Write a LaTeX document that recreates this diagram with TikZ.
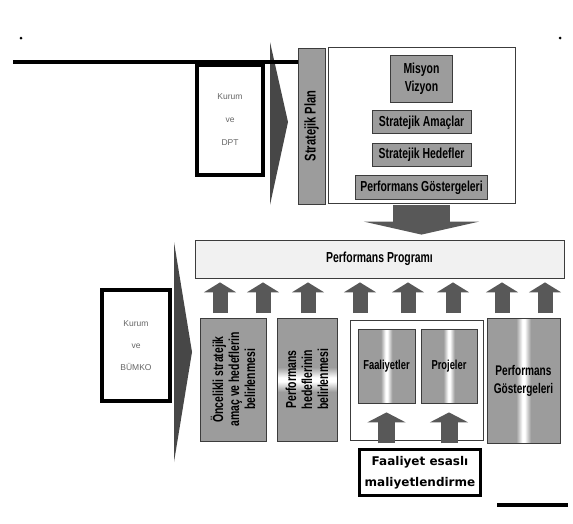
\documentclass[tikz,border=0pt]{standalone}
\usepackage{fontspec}
\setmainfont{Liberation Sans}
\newfontfamily\narrowfont[FakeStretch=0.72]{Liberation Sans}
\newfontfamily\roundfont{DejaVu Sans}
\usetikzlibrary{arrows.meta,positioning}
\definecolor{boxgray}{HTML}{9C9C9C}
\definecolor{edgegray}{HTML}{3C3C3C}
\definecolor{arrgray}{HTML}{585858}
\definecolor{chevgray}{HTML}{474747}
\definecolor{progfill}{HTML}{F1F1F1}
\pgfdeclarehorizontalshading{vstripe}{100bp}{color(0bp)=(boxgray); color(45bp)=(boxgray); color(49.2bp)=(white); color(50.8bp)=(white); color(55bp)=(boxgray); color(100bp)=(boxgray)}
\pgfdeclareverticalshading{hstripe}{100bp}{color(0bp)=(boxgray); color(45bp)=(boxgray); color(49.2bp)=(white); color(50.8bp)=(white); color(55bp)=(boxgray); color(100bp)=(boxgray)}
\newcommand\boxfont[2]{\narrowfont\bfseries\fontsize{#1}{#2}\selectfont}

\begin{document}
\begin{tikzpicture}[x=1pt,y=-1pt,
    kbox/.style={draw=black,line width=4pt,fill=white,align=center,text=black!60,inner sep=0pt,
      font=\fontsize{8.5}{23}\selectfont},
    gbox/.style={draw=edgegray,line width=0.8pt,fill=boxgray,align=center,inner sep=1pt,
      font=\boxfont{14.5}{16}},
    sbox/.style={gbox,shading=vstripe},
    wbox/.style={draw=edgegray,line width=0.8pt,fill=white},
    ebox/.style={draw=black,line width=2.5pt,fill=white,align=center,inner sep=0pt,
      font=\roundfont\bfseries\fontsize{12}{21}\selectfont},
    chev/.style={fill=chevgray},
    uparr/.style={draw=arrgray,line width=15pt,-{Triangle[length=10pt,width=32pt]},shorten >=4pt},
    inarr/.style={draw=arrgray,line width=17pt,-{Triangle[length=10pt,width=38pt]},shorten <=5pt,shorten >=9pt},
    bigarr/.style={draw=arrgray,line width=57pt,-{Triangle[length=13pt,width=115pt]},shorten <=2pt,shorten >=5pt}]
  \useasboundingbox (0,0) rectangle (573,523);
  \fill (21,38) circle (1.5pt);
  \fill (560,38) circle (1.5pt);
  \node[kbox,minimum width=66pt,minimum height=110pt](kdpt) at (230,120){Kurum\\ve\\DPT};
  \fill[chev] (270,42) -- (288,122) -- (270,205) -- cycle;
  \node[gbox,rotate=90,minimum width=156pt,minimum height=27pt,font=\boxfont{15.5}{16}](spbar) at (311.5,126){Stratejik Plan};
  \coordinate (tl) at (13,62);
  \draw[line width=4pt] (tl) -- (tl -| spbar.north);
  \node[wbox,minimum width=187pt,minimum height=156pt](plan) at (421.5,125){};
  \node[gbox,minimum width=62pt,minimum height=47pt,font=\boxfont{14.5}{18}](mv) at (421.5,78.5){Misyon\\Vizyon};
  \node[gbox,minimum width=99pt,minimum height=23pt,below=8pt of mv](sa){Stratejik Amaçlar};
  \node[gbox,minimum width=99pt,minimum height=23pt,below=9pt of sa](sh){Stratejik Hedefler};
  \node[gbox,minimum width=132pt,minimum height=24pt,below=8pt of sh](pg){Performans Göstergeleri};
  \node[wbox,fill=progfill,minimum width=369pt,minimum height=38pt,font=\boxfont{14.5}{16}](prog) at (379.5,259){Performans Programı};
  \draw[bigarr] (plan.south) -- (plan.south |- prog.north);
  \fill[chev] (174,242) -- (192,352) -- (174,462) -- cycle;
  \node[kbox,minimum width=68pt,minimum height=111pt,font=\fontsize{8.5}{22}\selectfont](kbum) at (136,345.5){Kurum\\ve\\BÜMKO};
  \node[gbox,rotate=90,minimum width=123pt,minimum height=66pt,font=\boxfont{14.5}{16}](onc) at (233,379.5){Öncelikli stratejik\\amaç ve hedeflerin\\belirlenmesi};
  \node[gbox,shading=hstripe,rotate=90,minimum width=123pt,minimum height=60pt,font=\boxfont{14.5}{16}](phb) at (307,379.5){Performans\\hedeflerinin\\belirlenmesi};
  \node[wbox,minimum width=133pt,minimum height=120pt](grp) at (416.5,380){};
  \node[sbox,minimum width=57pt,minimum height=74pt,font=\boxfont{13}{15}](fa) at (386.5,366){Faaliyetler};
  \node[sbox,minimum width=56pt,minimum height=74pt,font=\boxfont{13}{15}](pj) at (449,366){Projeler};
  \node[sbox,minimum width=73pt,minimum height=125pt,font=\boxfont{14}{18}](pgr) at (523.5,380.5){Performans\\Göstergeleri};
  \node[ebox,minimum width=121pt,minimum height=46pt](fem) at (420,472.5){Faaliyet esaslı\\maliyetlendirme};
  \foreach \x [count=\i] in {220,263,308,360,408,453,502,545}{
    \coordinate (u\i) at (\x,313);
    \draw[uparr] (u\i) -- (u\i |- prog.south);
  }
  \draw[inarr] (fa.south |- fem.north) -- (fa.south);
  \draw[inarr] (pj.south |- fem.north) -- (pj.south);
  \draw[line width=4pt] (497,505) -- (568,505);
\end{tikzpicture}
\end{document}
